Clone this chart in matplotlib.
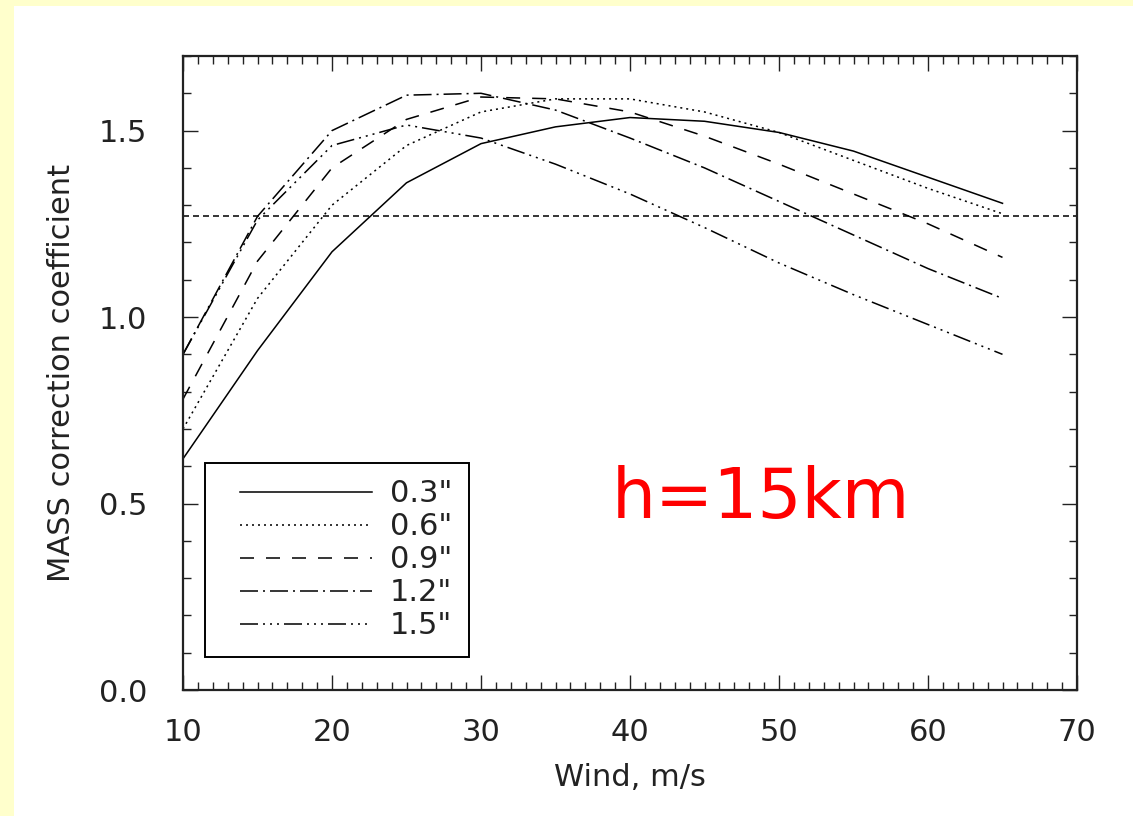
import matplotlib
matplotlib.use("Agg")
import matplotlib.pyplot as plt
from matplotlib.patches import Rectangle
from matplotlib.legend_handler import HandlerLine2D
from matplotlib.lines import Line2D
from matplotlib.ticker import MultipleLocator

plt.rcParams['lines.scale_dashes'] = False
plt.rcParams['font.family'] = ['DejaVu Sans']

# ---- data ----
wind = [10, 15, 20, 25, 30, 35, 40, 45, 50, 55, 60, 65]
seeing_labels = ['0.3"', '0.6"', '0.9"', '1.2"', '1.5"']
s03 = [0.62, 0.91, 1.175, 1.36, 1.465, 1.51, 1.535, 1.525, 1.495, 1.445, 1.375, 1.305]
s06 = [0.70, 1.05, 1.30, 1.46, 1.55, 1.585, 1.585, 1.55, 1.495, 1.42, 1.345, 1.277]
s09 = [0.78, 1.15, 1.40, 1.53, 1.59, 1.585, 1.55, 1.485, 1.41, 1.33, 1.25, 1.16]
s12 = [0.90, 1.27, 1.50, 1.595, 1.60, 1.555, 1.48, 1.40, 1.31, 1.22, 1.13, 1.05]
s15 = [0.90, 1.26, 1.46, 1.515, 1.48, 1.41, 1.33, 1.24, 1.145, 1.06, 0.98, 0.90]
ref_level = 1.27
x_label = "Wind, m/s"
y_label = "MASS correction coefficient"
annotation = "h=15km"

px = 72.0 / 100.0  # points per pixel
styles = [
    '-',
    (0, (2 * px, 4 * px)),
    (0, (14 * px, 12 * px)),
    (0, (18 * px, 5 * px, 2 * px, 5 * px)),
    (0, (18 * px, 5 * px, 2 * px, 5 * px, 2 * px, 5 * px, 2 * px, 5 * px)),
]

fig = plt.figure(figsize=(11.33, 8.16), dpi=100)
fig.patch.set_facecolor('#FFFFCC')
fig.patches.append(Rectangle((14 / 1133, 0), 1 - 14 / 1133, 1 - 6 / 816,
                             transform=fig.transFigure, facecolor='white',
                             edgecolor='none', zorder=-5))

ax = fig.add_axes([183 / 1133, 1 - 690 / 816, (1077 - 183) / 1133, (690 - 56) / 816])
ax.set_facecolor('white')

lw = 1.1 * px * 1.4
for vals, lab, ls in zip([s03, s06, s09, s12, s15], seeing_labels, styles):
    ax.plot(wind, vals, color='black', lw=lw, linestyle=ls, label=lab)

ax.axhline(ref_level, color='black', lw=lw, linestyle=(0, (6 * px, 4 * px)))

ax.set_xlim(10, 70)
ax.set_ylim(0.0, 1.7)
ax.xaxis.set_major_locator(MultipleLocator(10))
ax.xaxis.set_minor_locator(MultipleLocator(1))
ax.yaxis.set_major_locator(MultipleLocator(0.5))
ax.yaxis.set_minor_locator(MultipleLocator(0.1))
ax.yaxis.set_major_formatter(matplotlib.ticker.FormatStrFormatter('%.1f'))

for s in ax.spines.values():
    s.set_linewidth(1.6)
    s.set_color('#222222')

fs = 22
ax.tick_params(which='both', direction='in', top=True, right=True, width=1.0,
               color='#222222', labelsize=fs, labelcolor='#222222')
ax.tick_params(which='major', length=11)
ax.tick_params(which='minor', length=6)
ax.tick_params(axis='x', pad=20)
ax.tick_params(axis='y', pad=26)

ax.set_xlabel(x_label, fontsize=fs, labelpad=12, color='#222222')
ax.set_ylabel(y_label, fontsize=fs, labelpad=16, color='#222222')


class ShiftedHandler(HandlerLine2D):
    def create_artists(self, legend, orig_handle, xdescent, ydescent, width,
                       height, fontsize, trans):
        arts = super().create_artists(legend, orig_handle, xdescent, ydescent,
                                      width, height, fontsize, trans)
        for a in arts:
            if isinstance(a, Line2D):
                xd = [float(v) for v in a.get_xdata()]
                if len(xd) >= 2:
                    xd[0] = xd[0] + 0.12 * width
                    a.set_xdata(xd)
        return arts


handles, labels = ax.get_legend_handles_labels()
leg = ax.legend(handles, labels, loc='lower left',
                bbox_to_anchor=((205 - 183) / 894, (690 - 657) / 634),
                borderaxespad=0, fontsize=fs, frameon=True, fancybox=False,
                edgecolor='black', framealpha=1, handlelength=4.9,
                handletextpad=0.6, labelspacing=0.13, borderpad=0.55,
                handler_map={Line2D: ShiftedHandler()})
leg.get_frame().set_linewidth(1.4)
for t in leg.get_texts():
    t.set_color('#222222')

ax.text((612 - 183) / 894, (690 - 518) / 634, annotation, transform=ax.transAxes,
        color='#FF0000', fontsize=50, family=['DejaVu Sans'],
        ha='left', va='baseline')

fig.savefig('out.png', dpi=100, facecolor=fig.get_facecolor())
